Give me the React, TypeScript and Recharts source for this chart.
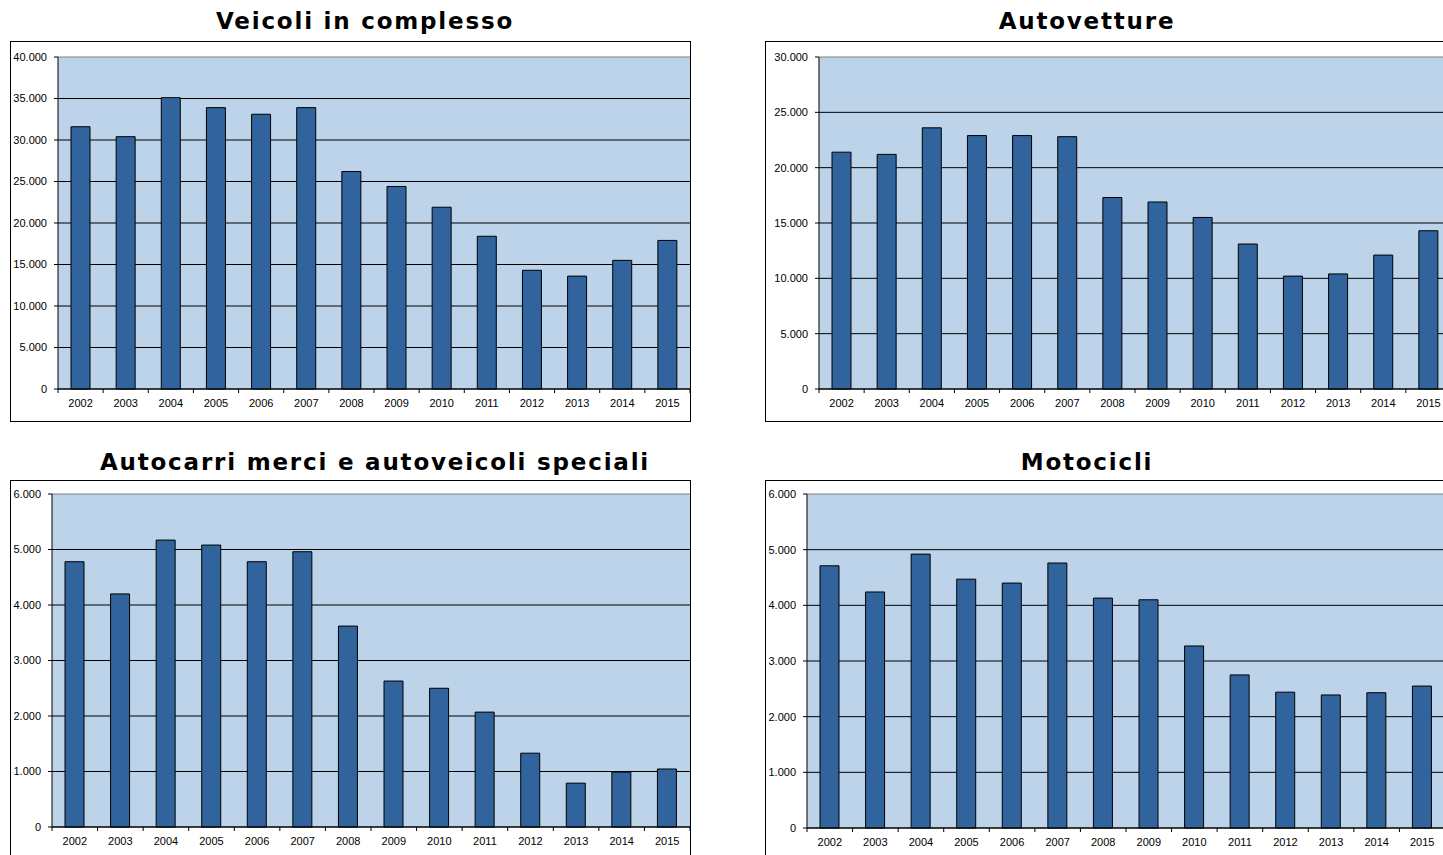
import React from 'react';
import { BarChart, Bar, XAxis, YAxis, CartesianGrid } from 'recharts';

const years = ['2002', '2003', '2004', '2005', '2006', '2007', '2008', '2009', '2010', '2011', '2012', '2013', '2014', '2015'];

const veicoli = [31600, 30400, 35100, 33900, 33100, 33900, 26200, 24400, 21900, 18400, 14300, 13600, 15500, 17900];
const autovetture = [21400, 21200, 23600, 22900, 22900, 22800, 17300, 16900, 15500, 13100, 10200, 10400, 12100, 14300];
const autocarri = [4780, 4200, 5170, 5080, 4780, 4960, 3620, 2630, 2500, 2070, 1330, 790, 990, 1045];
const motocicli = [4710, 4240, 4920, 4470, 4400, 4760, 4130, 4100, 3270, 2750, 2440, 2390, 2430, 2550];

const ticks40 = [0, 5000, 10000, 15000, 20000, 25000, 30000, 35000, 40000];
const ticks30 = [0, 5000, 10000, 15000, 20000, 25000, 30000];
const ticks6 = [0, 1000, 2000, 3000, 4000, 5000, 6000];

const BAR = '#31649c';
const BG = '#bdd3ea';
const FONT = '"Liberation Sans", Arial, sans-serif';
const TOP_PAD = 10;

const fmt = (v: number) => String(v).replace(/\B(?=(\d{3})+(?!\d))/g, '.');

type Box = { left: number; top: number; width: number; height: number };

function Panel(props: {
  title: string;
  titleCenter: number;
  titleTop: number;
  values: number[];
  ticks: number[];
  box: Box;
  plot: Box;
}) {
  const { title, titleCenter, titleTop, values, ticks, box, plot } = props;
  const data = years.map((year, i) => ({ year, v: values[i] }));
  const chartLeft = box.left + 1;
  const yw = plot.left - chartLeft;
  const bw = plot.width / years.length;
  const max = ticks[ticks.length - 1];

  const renderTick = (p: any) => {
    const last = p.index === years.length - 1;
    return (
      <g key={`t-${p.index}`}>
        <line x1={p.x - bw / 2} x2={p.x - bw / 2} y1={p.y} y2={p.y + 4} stroke="#000" />
        {last && <line x1={p.x + bw / 2} x2={p.x + bw / 2} y1={p.y} y2={p.y + 4} stroke="#000" />}
        <text x={p.x} y={p.y + 18} textAnchor="middle" fontSize={11} fill="#000" fontFamily={FONT}>
          {p.payload.value}
        </text>
      </g>
    );
  };

  const renderGrid = (p: any) => (
    <line
      key={p.key}
      x1={p.x1}
      x2={p.x2}
      y1={p.y1}
      y2={p.y2}
      stroke={Math.abs(p.y1 - TOP_PAD) < 1 ? '#808080' : '#000'}
      strokeWidth={1}
    />
  );

  return (
    <>
      <div
        style={{
          position: 'absolute',
          left: titleCenter - 300,
          width: 600,
          top: titleTop,
          textAlign: 'center',
          fontFamily: '"DejaVu Sans", Verdana, sans-serif',
          fontWeight: 'bold',
          fontSize: 23,
          lineHeight: '23px',
          letterSpacing: 1.8,
          color: '#000',
          whiteSpace: 'nowrap',
        }}
      >
        {title}
      </div>
      <div
        style={{
          position: 'absolute',
          boxSizing: 'border-box',
          left: box.left,
          top: box.top,
          width: box.width,
          height: box.height,
          border: '1px solid #000',
        }}
      />
      <div style={{ position: 'absolute', left: chartLeft, top: plot.top - TOP_PAD }}>
        <BarChart
          width={plot.left + plot.width - chartLeft}
          height={TOP_PAD + plot.height + 30}
          data={data}
          margin={{ top: TOP_PAD, right: 0, bottom: 0, left: 0 }}
        >
          <CartesianGrid vertical={false} fill={BG} horizontal={renderGrid} />
          <XAxis
            dataKey="year"
            interval={0}
            tickSize={0}
            tickMargin={0}
            tickLine={false}
            axisLine={{ stroke: '#000' }}
            tick={renderTick}
            height={30}
          />
          <YAxis
            type="number"
            domain={[0, max]}
            ticks={ticks}
            interval={0}
            tickFormatter={fmt}
            width={yw}
            axisLine={{ stroke: '#000' }}
            tickLine={{ stroke: '#000' }}
            tickSize={4}
            tickMargin={7}
            tick={{ fill: '#000', fontSize: 11, fontFamily: FONT }}
          />
          <Bar dataKey="v" fill={BAR} stroke="#000" strokeWidth={1} barSize={19} isAnimationActive={false} />
        </BarChart>
      </div>
    </>
  );
}

export default function App() {
  return (
    <div
      style={{
        position: 'absolute',
        left: 0,
        top: 0,
        width: 1443,
        height: 855,
        overflow: 'hidden',
        background: '#fff',
        fontFamily: FONT,
      }}
    >
      <Panel
        title="Veicoli in complesso"
        titleCenter={365}
        titleTop={10}
        values={veicoli}
        ticks={ticks40}
        box={{ left: 10, top: 41, width: 681, height: 381 }}
        plot={{ left: 58, top: 57, width: 632, height: 332 }}
      />
      <Panel
        title="Autovetture"
        titleCenter={1087}
        titleTop={10}
        values={autovetture}
        ticks={ticks30}
        box={{ left: 765, top: 41, width: 720, height: 381 }}
        plot={{ left: 819, top: 57, width: 632, height: 332 }}
      />
      <Panel
        title="Autocarri merci e autoveicoli speciali"
        titleCenter={375}
        titleTop={451}
        values={autocarri}
        ticks={ticks6}
        box={{ left: 10, top: 480, width: 681, height: 420 }}
        plot={{ left: 52, top: 494, width: 638, height: 333 }}
      />
      <Panel
        title="Motocicli"
        titleCenter={1087}
        titleTop={451}
        values={motocicli}
        ticks={ticks6}
        box={{ left: 765, top: 480, width: 720, height: 420 }}
        plot={{ left: 807, top: 494, width: 638, height: 334 }}
      />
    </div>
  );
}
